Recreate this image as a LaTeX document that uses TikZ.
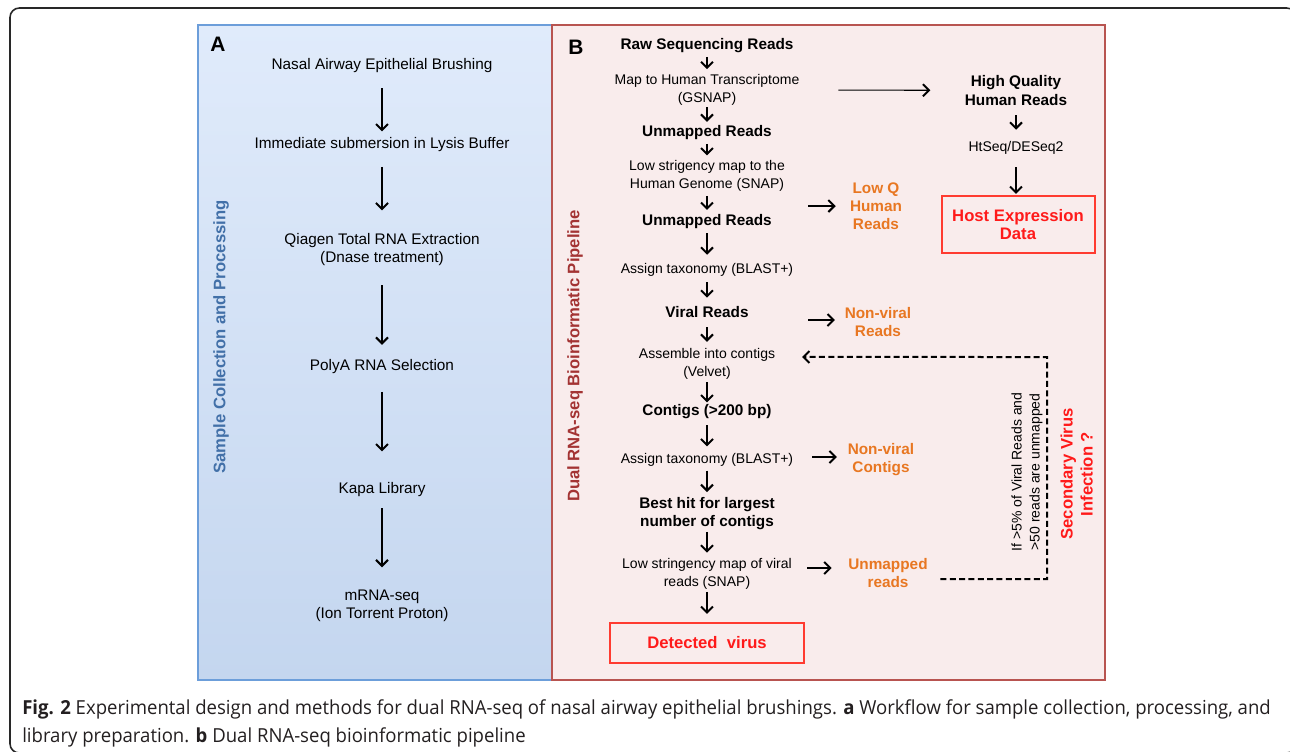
\documentclass[tikz,border=0pt]{standalone}
\usepackage{fontspec}
\setmainfont{Liberation Sans}
\newfontfamily\captionfont[FakeStretch=0.96]{Open Sans}
\usetikzlibrary{arrows.meta}
\definecolor{panelablue}{RGB}{108,158,218}
\definecolor{panelatop}{RGB}{224,235,251}
\definecolor{panelabottom}{RGB}{196,214,239}
\definecolor{panelbred}{RGB}{184,84,80}
\definecolor{panelbfill}{RGB}{249,236,236}
\definecolor{labelblue}{RGB}{66,112,168}
\definecolor{labelred}{RGB}{163,51,51}
\definecolor{sideorange}{RGB}{232,119,34}
\definecolor{alertred}{RGB}{255,26,26}
\definecolor{boxred}{RGB}{255,59,48}
\definecolor{framegray}{RGB}{40,40,40}
\definecolor{captionblack}{RGB}{35,31,32}

\begin{document}
\begin{tikzpicture}[
        x=0.75pt, y=-0.75pt,
        stage/.style={align=center, inner sep=0pt, font=\fontsize{10.5}{13.6}\selectfont},
        stagea/.style={align=center, inner sep=0pt, font=\fontsize{11.5}{13.6}\selectfont},
        stagebold/.style={align=center, inner sep=0pt, font=\fontsize{11.5}{13.6}\selectfont\bfseries},
        sidelabel/.style={stagebold, text=sideorange},
        resultbox/.style={rectangle, draw=boxred, line width=1.5pt, inner sep=0pt, align=center, text=alertred, font=\fontsize{12.5}{13.7}\selectfont\bfseries},
        panellabel/.style={rotate=90, inner sep=0pt, font=\fontsize{12.5}{15}\selectfont\bfseries},
        letter/.style={inner sep=0pt, font=\fontsize{15.7}{18}\selectfont\bfseries},
        flow/.style={-{Straight Barb[length=4.5pt, width=9pt, line width=1.5pt]}, line width=0.8pt, shorten <=3pt, shorten >=3.5pt},
        loopback/.style={-{Straight Barb[length=4.5pt, width=9pt, line width=1.5pt]}, line width=1.5pt, dash pattern=on 4.5pt off 2.5pt}
    ]
    \useasboundingbox (0,0) rectangle (1290,751);

    % Outer frame and the two panels
    \draw[framegray, line width=1.2pt, rounded corners=7pt] (10,8) rectangle (1296,753);
    \path[draw=panelablue, top color=panelatop, bottom color=panelabottom, line width=0.8pt] (198,25) rectangle (553,680);
    \path[draw=panelbred, fill=panelbfill, line width=0.8pt] (552,25) rectangle (1105,680);

    % Panel A: sample collection
    \node[letter] (la) at (218,44) {A};
    \node[panellabel, text=labelblue] (lsample) at (221,337) {Sample Collection and Processing};
    \node[stagea] (a1) at (382,65.5) {Nasal Airway Epithelial Brushing};
    \node[stagea] (a2) at (382,144.5) {Immediate submersion in Lysis Buffer};
    \node[stagea] (a3) at (382,249.5) {Qiagen Total RNA Extraction\\(Dnase treatment)};
    \node[stagea] (a4) at (382,367) {PolyA RNA Selection};
    \node[stagea] (a5) at (382,489.5) {Kapa Library};
    \node[stagea] (a6) at (382,606) {mRNA-seq\\(Ion Torrent Proton)};

    \draw[flow, shorten <=11.5pt, shorten >=4.2pt] (a1) -- (a2);
    \draw[flow, shorten <=11.25pt, shorten >=17pt] (a2) -- (a3);
    \draw[flow, shorten <=14.5pt, shorten >=11.1pt] (a3) -- (a4);
    \draw[flow, shorten <=13.1pt, shorten >=23pt] (a4) -- (a5);
    \draw[flow, shorten <=8.5pt, shorten >=16.9pt] (a5) -- (a6);

    % Panel B: bioinformatic pipeline
    \node[letter] (lb) at (576,47.5) {B};
    \node[panellabel, text=labelred] (lpipe) at (575,356) {Dual RNA-seq Bioinformatic Pipeline};
    \node[stagebold] (b1) at (707,45.5) {Raw Sequencing Reads};
    \node[stage] (b2) at (707,89.7) {Map to Human Transcriptome\\(GSNAP)};
    \node[stagebold] (b3) at (707,132.5) {Unmapped Reads};
    \node[stage] (b4) at (707,176) {Low strigency map to the\\Human Genome (SNAP)};
    \node[stagebold] (b5) at (707,222) {Unmapped Reads};
    \node[stage] (b6) at (707,269.4) {Assign taxonomy (BLAST+)};
    \node[stagebold] (b7) at (707,312) {Viral Reads};
    \node[stage] (b8) at (707,364.3) {Assemble into contigs\\(Velvet)};
    \node[stagebold] (b9) at (707,412) {Contigs (>200 bp)};
    \node[stage] (b10) at (707,459.7) {Assign taxonomy (BLAST+)};
    \node[stagebold] (b11) at (707,513.2) {Best hit for largest\\number of contigs};
    \node[stage] (b12) at (707,573.7) {Low stringency map of viral\\reads (SNAP)};
    \node[resultbox, minimum width=145.5pt, minimum height=30pt] (virus) at (707,642.7) {Detected\ \ virus};

    \draw[flow] (b1) -- (b2);
    \draw[flow, shorten <=1.3pt, shorten >=2.5pt] (b2) -- (b3);
    \draw[flow] (b3) -- (b4);
    \draw[flow] (b4) -- (b5);
    \draw[flow, shorten >=5.9pt] (b5) -- (b6);
    \draw[flow, shorten <=4.6pt, shorten >=6.3pt] (b6) -- (b7);
    \draw[flow, shorten <=7pt, shorten >=5pt] (b7) -- (b8);
    \draw[flow, shorten <=1.6pt, shorten >=1.6pt] (b8) -- (b9);
    \draw[flow, shorten <=4.4pt, shorten >=4.9pt] (b9) -- (b10);
    \draw[flow] (b10) -- (b11);
    \draw[flow, shorten <=1.7pt, shorten >=3.9pt] (b11) -- (b12);
    \draw[flow, shorten <=1.8pt, shorten >=5.8pt] (b12) -- (virus);

    % Host branch
    \node[stagebold] (hq) at (1016,90.5) {High Quality\\Human Reads};
    \node[stage] (hts) at (1016,148) {HtSeq/DESeq2};
    \node[resultbox, minimum width=114.75pt, minimum height=43pt] (host) at (1018,224.7) {Host Expression\\Data};

    \draw[flow, shorten <=29pt, shorten >=25.7pt] (b2) -- (hq);
    \draw[flow, shorten <=7.5pt, shorten >=8.6pt] (hq) -- (hts);
    \draw[flow, shorten <=9.2pt, shorten >=0.8pt] (hts.south) -- (hts.south |- host.north);

    % Discarded reads
    \node[sidelabel] (lowq) at (876,205.9) {Low Q\\Human\\Reads};
    \node[sidelabel] (nvreads) at (878,321.6) {Non-viral\\Reads};
    \node[sidelabel] (nvcontigs) at (881,459.5) {Non-viral\\Contigs};
    \node[sidelabel] (unreads) at (888,572.9) {Unmapped\\reads};
    \coordinate (lowqtail) at (808,206);
    \coordinate (nvreadstail) at (808,320);
    \coordinate (nvcontigstail) at (812,457);
    \coordinate (unreadstail) at (807,568);

    \draw[flow, shorten <=0pt, shorten >=10.5pt] (lowqtail) -- (lowqtail -| lowq.west);
    \draw[flow, shorten <=0pt, shorten >=7.2pt] (nvreadstail) -- (nvreadstail -| nvreads.west);
    \draw[flow, shorten <=0pt, shorten >=8pt] (nvcontigstail) -- (nvcontigstail -| nvcontigs.west);
    \draw[flow, shorten <=0pt, shorten >=12.4pt] (unreadstail) -- (unreadstail -| unreads.west);

    % Feedback loop for a second virus
    \coordinate (loopturn) at (1047,357);
    \draw[loopback, shorten <=9.4pt, shorten >=20pt] ([yshift=-4.6pt]unreads.east) -| (loopturn) -- ([yshift=5.5pt]b8.east);
    \node[stage, rotate=90] (cond) at (1027,472) {If >5\% of Viral Reads and\\>50 reads are unmapped};
    \node[stagebold, rotate=90, text=alertred, font=\fontsize{12.5}{15}\selectfont\bfseries] (second) at (1076.6,474) {Secondary Virus\\Infection ?};

    % Caption
    \node[anchor=north west, inner sep=0pt, align=left, text=captionblack, font=\captionfont\fontsize{14.5}{21}\selectfont] (caption) at (22,699) {\textbf{Fig. 2} Experimental design and methods for dual RNA-seq of nasal airway epithelial brushings. \textbf{a} Workflow for sample collection, processing, and\\library preparation. \textbf{b} Dual RNA-seq bioinformatic pipeline};

\end{tikzpicture}
\end{document}
